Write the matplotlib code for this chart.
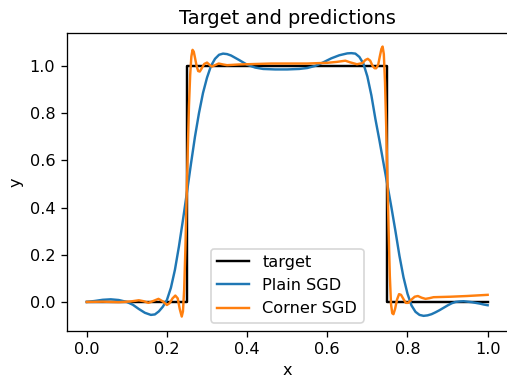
# Step target vs two fitted curves
import matplotlib
matplotlib.use("Agg")
import matplotlib.pyplot as plt

target_x = [0.0, 0.25, 0.25, 0.75, 0.75, 1.0]
target_y = [0.0, 0.0, 1.0, 1.0, 0.0, 0.0]

plain_x = [0.0, 0.02, 0.04, 0.06, 0.08, 0.1, 0.115, 0.13, 0.145, 0.16,
           0.17, 0.18, 0.19, 0.2, 0.21, 0.22, 0.23, 0.24, 0.25, 0.26,
           0.27, 0.28, 0.29, 0.30, 0.31, 0.32, 0.33, 0.34, 0.35, 0.36,
           0.38, 0.40, 0.42, 0.44, 0.47, 0.50, 0.53, 0.55, 0.57, 0.59,
           0.61, 0.63, 0.65, 0.66, 0.67, 0.68, 0.69, 0.70, 0.71, 0.72,
           0.73, 0.74, 0.75, 0.76, 0.77, 0.78, 0.79, 0.80, 0.81, 0.82,
           0.83, 0.84, 0.85, 0.86, 0.87, 0.88, 0.89, 0.90, 0.91, 0.92,
           0.93, 0.94, 0.95, 0.96, 0.97, 0.98, 0.99, 1.0]
plain_y = [0.0, 0.004, 0.009, 0.011, 0.008, 0.0, -0.012, -0.03, -0.046, -0.055,
           -0.053, -0.04, -0.02, 0.008, 0.06, 0.136, 0.235, 0.347, 0.465, 0.585,
           0.70, 0.80, 0.885, 0.95, 1.0, 1.03, 1.047, 1.052, 1.05, 1.044,
           1.025, 1.005, 0.993, 0.987, 0.985, 0.985, 0.987, 0.991, 1.0, 1.015,
           1.032, 1.045, 1.053, 1.054, 1.052, 1.038, 1.01, 0.955, 0.875, 0.775,
           0.685, 0.59, 0.495, 0.40, 0.30, 0.195, 0.105, 0.035, -0.015, -0.042,
           -0.055, -0.059, -0.057, -0.052, -0.044, -0.035, -0.025, -0.015, -0.006, 0.0,
           0.002, 0.003, 0.001, -0.001, -0.004, -0.007, -0.011, -0.014]

corner_x = [0.0, 0.04, 0.08, 0.11, 0.13, 0.142, 0.154, 0.166, 0.179, 0.19,
            0.2, 0.207, 0.214, 0.221, 0.227, 0.232, 0.237, 0.24, 0.243, 0.246,
            0.249, 0.252, 0.255, 0.258, 0.261, 0.264, 0.267, 0.27, 0.274, 0.278,
            0.282, 0.287, 0.293, 0.3, 0.306, 0.312, 0.32, 0.329, 0.34, 0.35,
            0.38, 0.42, 0.46, 0.5, 0.55, 0.6, 0.624, 0.645, 0.657, 0.674,
            0.688, 0.695, 0.701, 0.707, 0.713, 0.718, 0.722, 0.727, 0.731, 0.735,
            0.738, 0.741, 0.744, 0.747, 0.75, 0.753, 0.756, 0.759, 0.762, 0.765,
            0.769, 0.774, 0.779, 0.784, 0.79, 0.796, 0.802, 0.81, 0.818, 0.826,
            0.835, 0.845, 0.855, 0.865, 0.907, 0.948, 1.0]
corner_y = [0.0, 0.001, -0.001, 0.002, 0.007, 0.003, -0.004, 0.004, 0.013, 0.002,
            -0.013, -0.005, 0.015, 0.027, 0.015, -0.03, -0.062, -0.04, 0.05, 0.22,
            0.43, 0.64, 0.83, 0.96, 1.04, 1.068, 1.06, 1.035, 1.0, 0.978,
            0.976, 0.99, 1.008, 1.014, 1.005, 0.997, 1.003, 1.01, 1.006, 1.003,
            1.006, 1.008, 1.01, 1.01, 1.01, 1.013, 1.017, 1.022, 1.015, 1.007,
            1.012, 1.025, 1.03, 1.022, 1.0, 0.99, 0.99, 1.005, 1.04, 1.072,
            1.082, 1.05, 0.93, 0.74, 0.52, 0.3, 0.11, -0.01, -0.048, -0.052,
            -0.03, 0.01, 0.033, 0.03, 0.012, -0.004, -0.004, 0.01, 0.022, 0.025,
            0.018, 0.013, 0.016, 0.02, 0.022, 0.025, 0.03]

DPI = 116.4
fig = plt.figure(figsize=(507 / DPI, 379 / DPI), dpi=DPI)
ax = fig.add_axes([0.1315, 0.1274, 0.8699, 0.7847])

ax.plot(target_x, target_y, color="black", label="target")
ax.plot(plain_x, plain_y, color="tab:blue", label="Plain SGD")
ax.plot(corner_x, corner_y, color="tab:orange", label="Corner SGD")

ax.set_xlim(-0.05, 1.05)
ax.set_ylim(-0.122, 1.138)
ax.set_title("Target and predictions")
ax.set_xlabel("x")
ax.set_ylabel("y")
ax.legend(loc="lower center")

fig.savefig("out.png", dpi=DPI)
